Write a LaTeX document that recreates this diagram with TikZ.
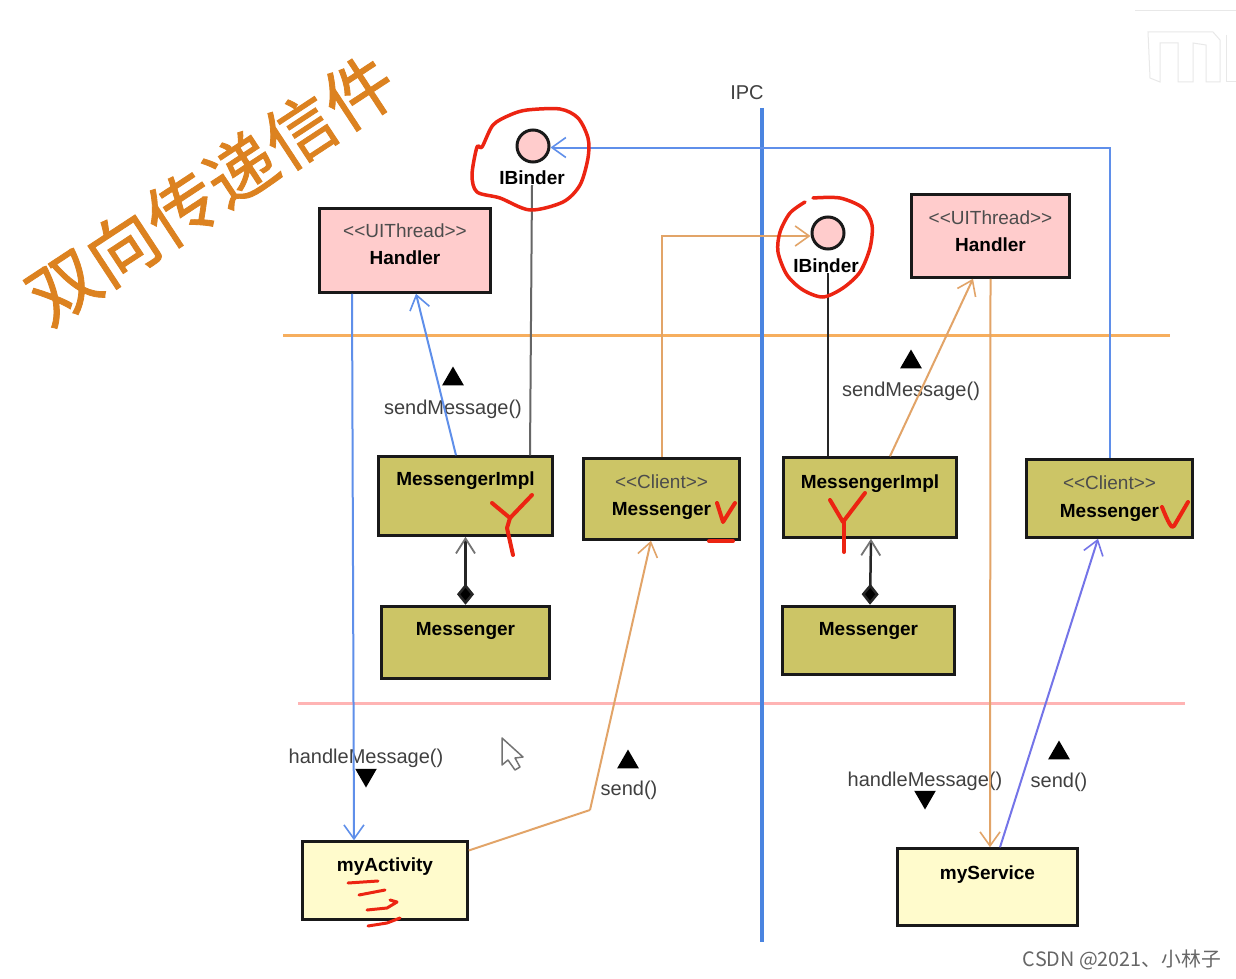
\documentclass[tikz,border=0pt]{standalone}
\usepackage{fontspec}
\setmainfont{Liberation Sans}
\newfontfamily\cjkfont{Noto Sans CJK SC}
\newfontfamily\titlefont[FakeBold=1.2,LetterSpace=1]{Noto Sans CJK SC}
\usetikzlibrary{positioning,calc}
\usetikzlibrary{arrows.meta}
\usetikzlibrary{shapes.geometric}
\definecolor{olivebox}{HTML}{CCC566}
\definecolor{pinkbox}{HTML}{FFCCCC}
\definecolor{creambox}{HTML}{FFFBCC}
\definecolor{linkblue}{HTML}{5F8FEA}
\definecolor{linkorange}{HTML}{E2A468}
\definecolor{linkviolet}{HTML}{7474E8}
\definecolor{ipcblue}{HTML}{4A84E0}
\definecolor{ruleorange}{HTML}{F6AE5E}
\definecolor{rulepink}{HTML}{FFB4B4}
\definecolor{scribred}{HTML}{EC2412}
\definecolor{titleorange}{HTML}{DC8220}
\tikzset{
  box/.style={draw=black!90,line width=3pt,rectangle,inner sep=0pt},
  iface/.style={draw=black!90,line width=3pt,circle,fill=pinkbox,minimum size=32pt,inner sep=0pt},
  bname/.style={inner sep=0pt,text=black,font=\fontsize{19}{19}\selectfont\bfseries},
  sname/.style={inner sep=0pt,text=black!70,font=\fontsize{19}{19}\selectfont},
  msg/.style={inner sep=0pt,text=black!75,font=\fontsize{20}{20}\selectfont},
  triup/.style={regular polygon,regular polygon sides=3,fill=black,inner sep=0pt,minimum size=25pt},
  tridown/.style={triup,shape border rotate=180},
  link/.style={line width=2pt},
  openhead/.style={-{Straight Barb[length=14pt,width=20pt,line width=1.6pt]}},
  scrib/.style={scribred,line width=3.5pt,line cap=round,line join=round},
}
\begin{document}
\begin{tikzpicture}[x=1pt,y=-1pt]
   \useasboundingbox[fill=white] (0,0) rectangle (1236,979);

   % faint logo, top right
   \begin{scope}[black!9,line width=1pt]
      \draw (1135,11) -- (1236,11);
      \draw (1148,32) -- (1213,32) -- (1220,40) -- (1220,82) -- (1206,82) -- (1206,45)
            -- (1193,43) -- (1193,82) -- (1178,82) -- (1178,43) -- (1160,43) -- (1160,82)
            -- (1150,78) -- cycle;
      \draw (1226,35) -- (1226,82) -- (1236,82);
   \end{scope}

   % separators
   \draw[ruleorange,line width=3pt] (283,335) -- (1170,335);
   \draw[rulepink,line width=3pt]   (298,703) -- (1185,703);
   \draw[ipcblue,line width=3.5pt]  (762,108) -- (762,942);
   \node[msg] (ipc) at (747,93) {IPC};

   % title
   \node[text=titleorange,inner sep=0pt,rotate=33.3,
         font=\fontsize{70}{70}\selectfont\titlefont] (title) at (211,189) {双向传递信件};

   % left side
   \node[box,fill=pinkbox,minimum width=170.5pt,minimum height=83.5pt]  (h0) at (405,250.5) {};
   \node[iface]                                                         (i0) at (533,146) {};
   \node[bname] (b0) at (532,178) {IBinder};
   \node[box,fill=olivebox,minimum width=173.5pt,minimum height=78.5pt] (m0) at (465.5,496) {};
   \node[box,fill=olivebox,minimum width=155.5pt,minimum height=80.5pt] (c0) at (661.5,499) {};
   \node[box,fill=olivebox,minimum width=168.5pt,minimum height=72.5pt,below=68pt of m0] (d0) {};
   \node[box,fill=creambox,minimum width=164.5pt,minimum height=77.5pt] (a0) at (385,880.5) {};

   % right side
   \node[box,fill=pinkbox,minimum width=157.5pt,minimum height=82.5pt]  (h1) at (990.5,236) {};
   \node[iface]                                                         (i1) at (828,233) {};
   \node[bname] (b1) at (826,266) {IBinder};
   \node[box,fill=olivebox,minimum width=172.5pt,minimum height=79.5pt] (m1) at (870,497.5) {};
   \node[box,fill=olivebox,minimum width=165.5pt,minimum height=77.5pt] (c1) at (1109.5,498.5) {};
   \node[box,fill=olivebox,minimum width=171.5pt,minimum height=68.5pt,below=66pt of m1,xshift=-1.5pt] (d1) {};
   \node[box,fill=creambox,minimum width=179.5pt,minimum height=76.5pt] (s0) at (987.5,887) {};

   % box texts
   \node[sname,below=16pt of h0.north] (h0s) {<{}<UIThread>{}>};
   \node[bname,below=43pt of h0.north] (h0n) {Handler};
   \node[bname,below=16pt of m0.north] (m0n) {MessengerImpl};
   \node[sname,below=17pt of c0.north] (c0s) {<{}<Client>{}>};
   \node[bname,below=44.5pt of c0.north] (c0n) {Messenger};
   \node[bname,below=17pt of d0.north] (d0n) {Messenger};
   \node[bname,below=17pt of a0.north] (a0n) {myActivity};
   \node[sname,below=17pt of h1.north] (h1s) {<{}<UIThread>{}>};
   \node[bname,below=44pt of h1.north] (h1n) {Handler};
   \node[bname,below=18pt of m1.north] (m1n) {MessengerImpl};
   \node[sname,below=17.5pt of c1.north] (c1s) {<{}<Client>{}>};
   \node[bname,below=45.5pt of c1.north] (c1n) {Messenger};
   \node[bname,below=17pt of d1.north] (d1n) {Messenger};
   \node[bname,below=18pt of s0.north] (s0n) {myService};

   % message labels
   \node[msg]     (t0) at (453,409) {sendMessage()};
   \node[triup]   (u0) at (453,379) {};
   \node[msg]     (t1) at (911,391) {sendMessage()};
   \node[triup]   (u1) at (911,362) {};
   \node[msg]     (t2) at (366,758) {handleMessage()};
   \node[tridown] (u2) at (366,775) {};
   \node[msg]     (t3) at (925,781) {handleMessage()};
   \node[tridown] (u3) at (925,797) {};
   \node[msg]     (t4) at (629,790) {send()};
   \node[triup]   (u4) at (628,762) {};
   \node[msg]     (t5) at (1059,782) {send()};
   \node[triup]   (u5) at (1059,753) {};

   % links
   \draw[link,black!60] (b0.south) -- ([xshift=64.5pt]m0.north);
   \draw[link,black!85] ([xshift=2pt]b1.south) -- ([xshift=-42pt]m1.north);
   \draw[link,linkblue,openhead] ([xshift=-9.5pt]m0.north) -- ([xshift=11pt]h0.south);
   \draw[link,linkorange,openhead] ([xshift=20pt]m1.north) -- ([xshift=-17.5pt]h1.south);
   \draw[link,linkblue,openhead] ([xshift=-53pt]h0.south) -- ([xshift=-31pt]a0.north);
   \draw[link,linkorange,openhead] (h1.south) -- ([xshift=2.5pt]s0.north);
   \draw[link,linkblue,openhead] (c1.north) |- ([yshift=-1.5pt]i0.east);
   \draw[link,linkorange,openhead] (c0.north) |- ([yshift=-3pt]i1.west);
   \coordinate (k0) at (590,810);
   \draw[link,linkorange] ([yshift=30pt]a0.east) -- (k0);
   \draw[link,linkorange,openhead] (k0) -- ([xshift=-10.5pt]c0.south);
   \draw[link,linkviolet,openhead] ([xshift=12.5pt]s0.north) -- ([xshift=-11.5pt]c1.south);

   % composition
   \draw[line width=2.5pt,black!85,{Diamond[fill=black,length=21pt,width=17pt]}-{Straight Barb[black!55,length=15pt,width=19pt,line width=1.8pt]}]
      (d0.north) -- (d0.north |- m0.south);
   \draw[line width=2.5pt,black!85,{Diamond[fill=black,length=21pt,width=17pt]}-{Straight Barb[black!55,length=15pt,width=19pt,line width=1.8pt]}]
      ([xshift=1.5pt]d1.north) -- ([xshift=1pt]m1.south);

   % mouse pointer
   \draw[black!55,line width=1.5pt,fill=white,line join=round]
      (502,738) -- (502,765) -- (508,760) -- (515,770) -- (520,767) -- (515,758) -- (523,757) -- cycle;

   % hand marks
   \draw[scrib] plot[smooth cycle] coordinates {(527,110) (560,109) (578,118) (588,138) (588,158)
      (580,185) (563,202) (530,210) (500,198) (477,192) (472,175) (477,147) (482,147) (493,125) (510,115)};
   \draw[scrib] plot[smooth] coordinates {(813,198) (840,198) (863,208) (872,225) (870,248) (860,272)
      (843,288) (823,297) (803,290) (787,275) (778,252) (780,232) (790,213) (805,202)};
   \draw[scrib,line width=4pt] (492,503) -- (510,518) -- (532,495);
   \draw[scrib,line width=4pt] (510,518) -- (507,528) -- (513,555);
   \draw[scrib,line width=4pt] (717,503) -- (723,522) -- (735,503);
   \draw[scrib,line width=4pt] (709,541) -- (733,541);
   \draw[scrib,line width=4pt] (830,500) -- (843,522) -- (865,493);
   \draw[scrib,line width=4pt] (844,522) -- (844,552);
   \draw[scrib,line width=4pt] (1162,507) .. controls (1168,522) and (1172,530) .. (1174,526) -- (1188,502);
   \draw[scrib,line width=3pt] (348,883) -- (378,881);
   \draw[scrib,line width=3pt] (359,895) -- (385,890);
   \draw[scrib,line width=3pt] (367,910) -- (387,908) -- (397,902) -- (390,900);
   \draw[scrib,line width=3pt] (368,926) -- (387,923) -- (400,918);

   % watermark
   \node[inner sep=0pt,text=black!60,font=\fontsize{19.8}{20}\selectfont\cjkfont] (csdn) at (1122,960) {CSDN @2021、小林子};
\end{tikzpicture}
\end{document}
